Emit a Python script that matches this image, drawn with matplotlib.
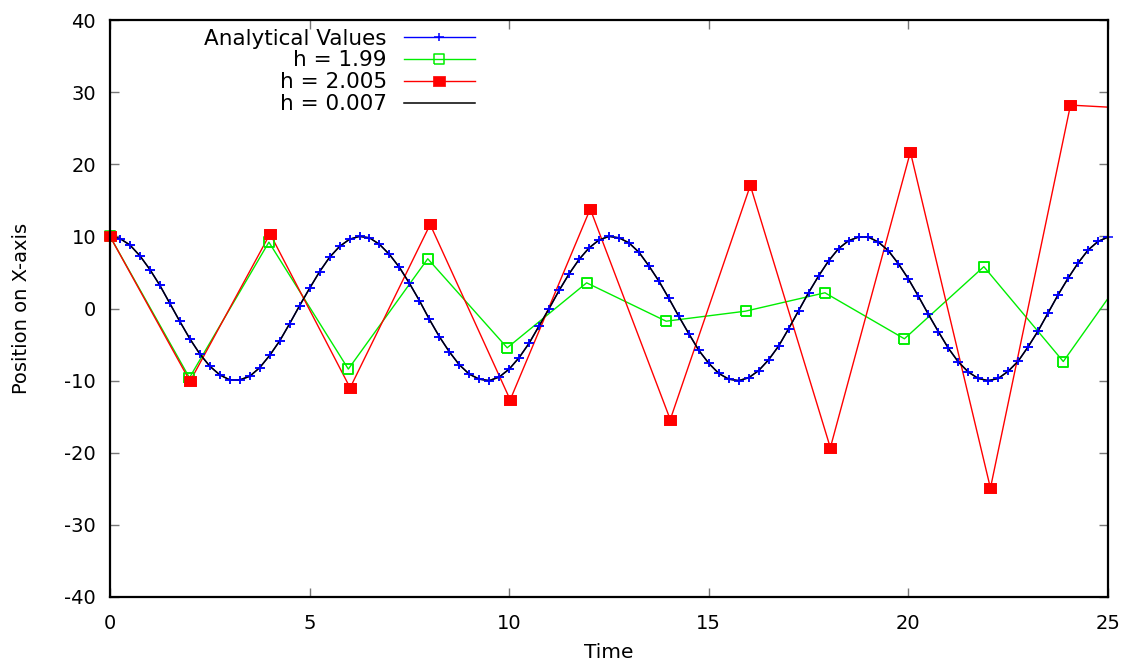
import numpy as np
import matplotlib
matplotlib.use("Agg")
import matplotlib.pyplot as plt
from matplotlib.path import Path

# ---------------- data ----------------
t_analytical = [0.0, 0.25, 0.5, 0.75, 1.0, 1.25, 1.5, 1.75, 2.0, 2.25, 2.5, 2.75,
                3.0, 3.25, 3.5, 3.75, 4.0, 4.25, 4.5, 4.75, 5.0, 5.25, 5.5, 5.75,
                6.0, 6.25, 6.5, 6.75, 7.0, 7.25, 7.5, 7.75, 8.0, 8.25, 8.5, 8.75,
                9.0, 9.25, 9.5, 9.75, 10.0, 10.25, 10.5, 10.75, 11.0, 11.25, 11.5, 11.75,
                12.0, 12.25, 12.5, 12.75, 13.0, 13.25, 13.5, 13.75, 14.0, 14.25, 14.5, 14.75,
                15.0, 15.25, 15.5, 15.75, 16.0, 16.25, 16.5, 16.75, 17.0, 17.25, 17.5, 17.75,
                18.0, 18.25, 18.5, 18.75, 19.0, 19.25, 19.5, 19.75, 20.0, 20.25, 20.5, 20.75,
                21.0, 21.25, 21.5, 21.75, 22.0, 22.25, 22.5, 22.75, 23.0, 23.25, 23.5, 23.75,
                24.0, 24.25, 24.5, 24.75, 25.0]
x_analytical = [10.0, 9.7, 8.8, 7.3, 5.4, 3.2, 0.7, -1.8, -4.2, -6.3, -8.0, -9.2,
                -9.9, -9.9, -9.4, -8.2, -6.5, -4.5, -2.1, 0.4, 2.8, 5.1, 7.1, 8.6,
                9.6, 10.0, 9.8, 8.9, 7.5, 5.7, 3.5, 1.1, -1.5, -3.9, -6.0, -7.8,
                -9.1, -9.8, -10.0, -9.5, -8.4, -6.8, -4.8, -2.4, 0.0, 2.5, 4.8, 6.8,
                8.4, 9.5, 10.0, 9.8, 9.1, 7.8, 5.9, 3.8, 1.4, -1.1, -3.5, -5.8,
                -7.6, -9.0, -9.8, -10.0, -9.6, -8.6, -7.1, -5.2, -2.8, -0.3, 2.2, 4.5,
                6.6, 8.3, 9.4, 9.9, 9.9, 9.2, 8.0, 6.2, 4.1, 1.7, -0.8, -3.2,
                -5.5, -7.4, -8.8, -9.7, -10.0, -9.7, -8.7, -7.3, -5.3, -3.1, -0.6, 1.9,
                4.2, 6.3, 8.1, 9.3, 9.9]

t_h0007 = t_analytical
x_h0007 = [10.0, 9.7, 8.8, 7.3, 5.4, 3.2, 0.7, -1.8, -4.2, -6.3, -8.0, -9.2,
           -9.9, -9.9, -9.4, -8.2, -6.5, -4.5, -2.1, 0.4, 2.8, 5.1, 7.1, 8.6,
           9.6, 10.0, 9.8, 8.9, 7.5, 5.7, 3.5, 1.1, -1.5, -3.9, -6.0, -7.8,
           -9.1, -9.8, -10.0, -9.5, -8.4, -6.8, -4.8, -2.4, 0.0, 2.5, 4.8, 6.8,
           8.4, 9.5, 10.0, 9.8, 9.1, 7.8, 5.9, 3.8, 1.4, -1.1, -3.5, -5.8,
           -7.6, -9.0, -9.8, -10.0, -9.6, -8.6, -7.1, -5.2, -2.8, -0.3, 2.2, 4.5,
           6.6, 8.3, 9.4, 9.9, 9.9, 9.2, 8.0, 6.2, 4.1, 1.7, -0.8, -3.2,
           -5.5, -7.4, -8.8, -9.7, -10.0, -9.7, -8.7, -7.3, -5.3, -3.1, -0.6, 1.9,
           4.2, 6.3, 8.1, 9.3, 9.9]

t_h199 = [0.0, 1.99, 3.98, 5.97, 7.96, 9.95, 11.94, 13.93, 15.92, 17.91,
          19.90, 21.89, 23.88, 25.87]
x_h199 = [10.0, -9.6, 9.2, -8.4, 6.9, -5.45, 3.56, -1.76, -0.37, 2.18,
          -4.2, 5.8, -7.35, 8.2]

t_h2005 = [0.0, 2.005, 4.01, 6.015, 8.02, 10.025, 12.03, 14.035, 16.04, 18.045,
           20.05, 22.055, 24.06, 26.065]
x_h2005 = [10.0, -10.1, 10.36, -11.0, 11.65, -12.66, 13.8, -15.4, 17.06, -19.3,
           21.7, -24.9, 28.2, 27.6]

labels = ["Analytical Values", "h = 1.99", "h = 2.005", "h = 0.007"]
x_ticks = [0, 5, 10, 15, 20, 25]
y_ticks = [-40, -30, -20, -10, 0, 10, 20, 30, 40]

# ---------------- style ----------------
plt.rcParams['font.family'] = ['DejaVu Sans']

BLUE = "#0000ff"
GREEN = "#00ee00"
RED = "#ff0000"

# slightly wide markers (reference image is horizontally stretched)
sq_red = [(-1.2, -1), (1.2, -1), (1.2, 1), (-1.2, 1), (-1.2, -1)]
sq_green = [(-1.1, -1), (1.1, -1), (1.1, 1), (-1.1, 1), (-1.1, -1)]
plus_m = Path([(-1.25, 0), (1.25, 0), (0, -0.95), (0, 0.95)],
              [Path.MOVETO, Path.LINETO, Path.MOVETO, Path.LINETO])

blue_kw = dict(marker=plus_m, markersize=7.8, markeredgewidth=1.1,
               markeredgecolor=BLUE, markerfacecolor='none')
green_kw = dict(marker=sq_green, markersize=7.3, markerfacecolor='none',
                markeredgecolor=GREEN, markeredgewidth=1.1)
red_kw = dict(marker=sq_red, markersize=8.0, markerfacecolor=RED,
              markeredgecolor=RED, markeredgewidth=0.5)

fig = plt.figure(figsize=(11.28, 6.61), dpi=100)
ax = fig.add_axes([110 / 1128, 1 - 597 / 661, 998 / 1128, 577 / 661])

XMAX = 25


def visible(t, v):
    t = np.asarray(t)
    v = np.asarray(v)
    m = t <= XMAX
    return t[m], v[m]


l1, = ax.plot(t_analytical, x_analytical, color=BLUE, lw=1.0, label=labels[0], **blue_kw)
l2, = ax.plot(t_h199, x_h199, color=GREEN, lw=1.0, label=labels[1], **green_kw)
l3, = ax.plot(t_h2005, x_h2005, color=RED, lw=1.0, label=labels[2], **red_kw)
l4, = ax.plot(t_h0007, x_h0007, color='black', lw=1.1, label=labels[3])

# unclipped marker overlays so that points on the frame are drawn whole
tv, vv = visible(t_analytical, x_analytical)
ax.plot(tv, vv, ls='none', clip_on=False, **blue_kw)
tv, vv = visible(t_h199, x_h199)
ax.plot(tv, vv, ls='none', clip_on=False, **green_kw)
tv, vv = visible(t_h2005, x_h2005)
ax.plot(tv, vv, ls='none', clip_on=False, **red_kw)

ax.set_xlim(0, 25)
ax.set_ylim(-40, 40)
ax.set_xticks(x_ticks)
ax.set_yticks(y_ticks)
ax.set_xticklabels([str(v) for v in x_ticks])
ax.set_yticklabels([str(v) for v in y_ticks])

ax.tick_params(axis='both', which='major', direction='in', length=6.5,
               width=1.0, color='#777777', top=True, right=True,
               labelsize=14, labelcolor='black')
ax.tick_params(axis='x', pad=12)
ax.tick_params(axis='y', pad=10)
for s in ax.spines.values():
    s.set_linewidth(1.6)
    s.set_color('black')

ax.set_xlabel("Time", fontsize=14.5)
ax.xaxis.set_label_coords(0.5, (597 - 652) / 577)
ax.xaxis.label.set_va('center')
ax.set_ylabel("Position on X-axis", fontsize=14)
ax.yaxis.set_label_coords((22 - 110) / 998, 0.5)
ax.yaxis.label.set_va('center')

leg = ax.legend(handles=[l1, l2, l3, l4], loc='upper right',
                bbox_to_anchor=((475 - 110) / 998, 0.985), frameon=False,
                markerfirst=False, numpoints=1, fontsize=15.5, handlelength=3.3,
                handletextpad=0.8, labelspacing=0.085, borderpad=0,
                borderaxespad=0)

fig.savefig("out.png", dpi=100)
